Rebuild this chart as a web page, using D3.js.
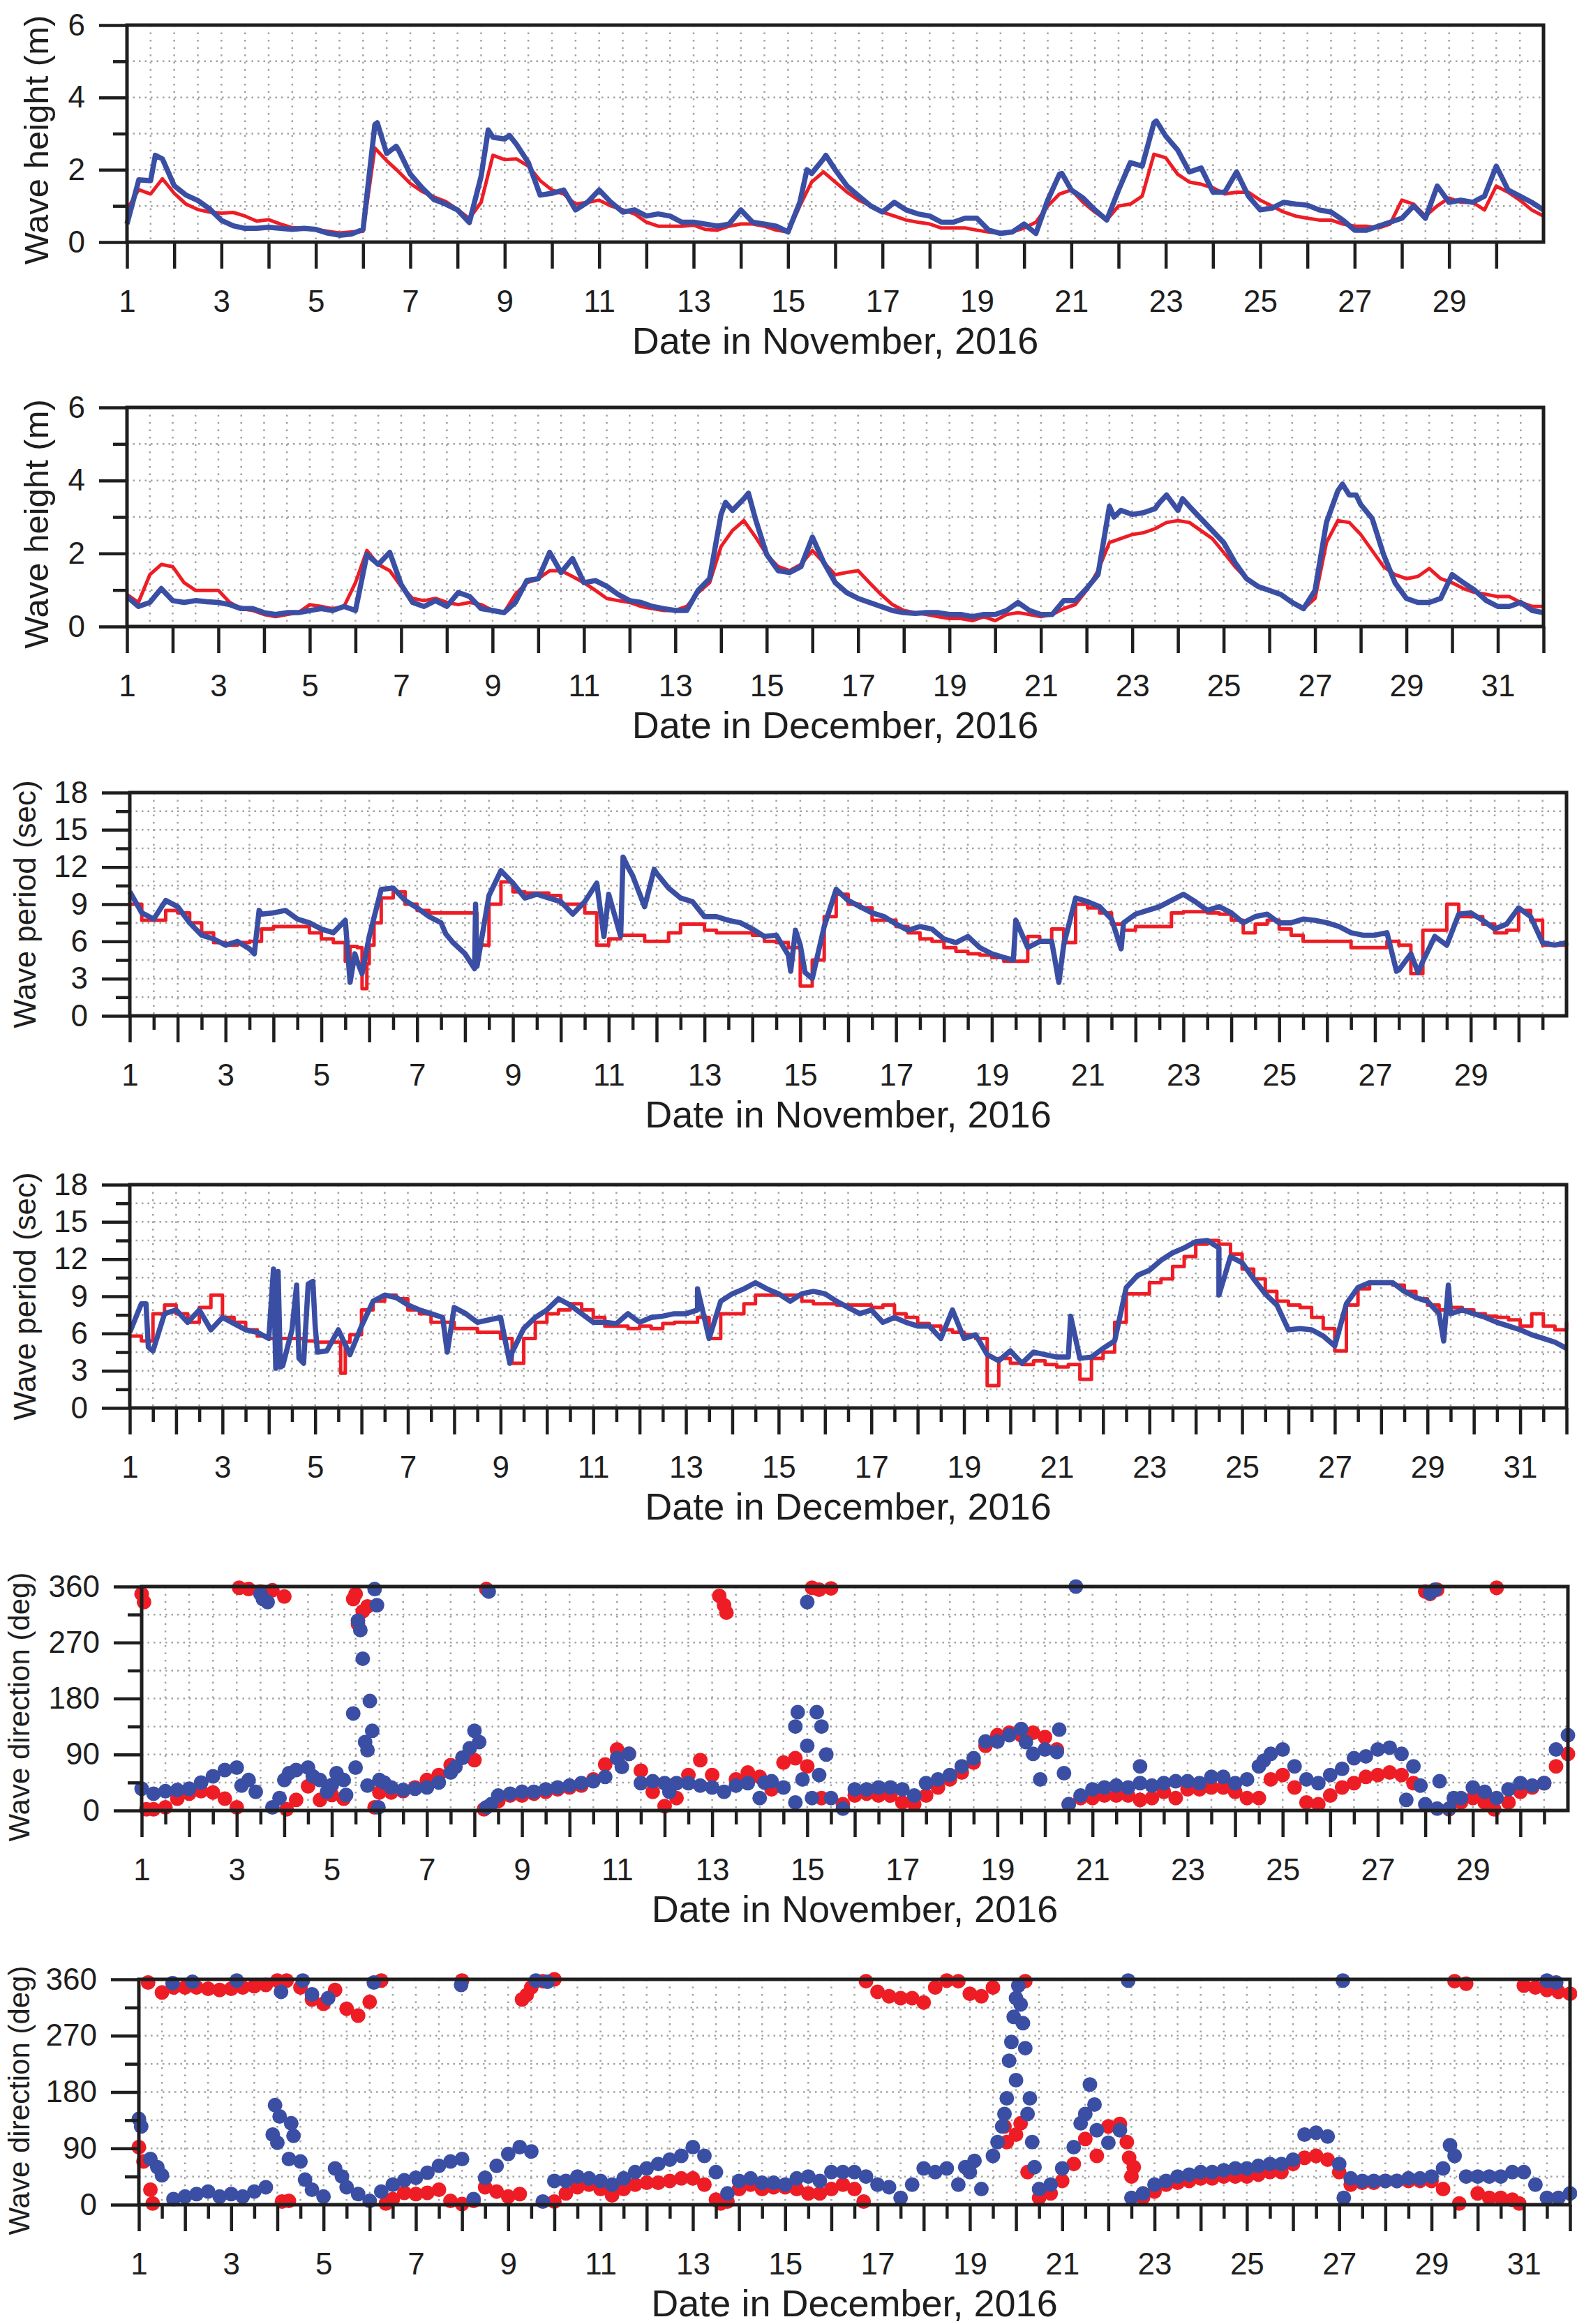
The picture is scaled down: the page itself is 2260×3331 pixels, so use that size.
<!DOCTYPE html>
<html>
<head>
<meta charset="utf-8">
<script src="https://cdn.jsdelivr.net/npm/d3@7"></script>
<style>
  body { margin: 0; background: #fff; }
  svg { display: block; font-family: "Liberation Sans", Arial, sans-serif; }
</style>
</head>
<body>
<svg id="chart" width="2260" height="3331"></svg>
<script>
// every series is sampled 6-hourly from day 1.00 (four values per day)
const step = 0.25;

// wave height (m), November
const novHeightRed = [
  0.9, 1.45, 1.33, 1.75,  1.35, 1.05, 0.9, 0.83,  0.8, 0.82, 0.72, 0.58,  0.62, 0.5, 0.4, 0.38,  0.35, 0.3, 0.25, 0.28,
  0.3, 2.6, 2.25, 1.95,  1.62, 1.4, 1.25, 1.12,  0.9, 0.65, 1.1, 2.4,  2.28, 2.3, 2.1, 1.7,  1.44, 1.33, 1.05, 1.1,
  1.16, 1.0, 0.89, 0.78,  0.55, 0.44, 0.44, 0.44,  0.47, 0.35, 0.33, 0.44,  0.5, 0.5, 0.44, 0.33,  0.28, 1.0, 1.66, 1.94,
  1.66, 1.38, 1.16, 1.0,  0.83, 0.72, 0.61, 0.55,  0.5, 0.39, 0.39, 0.39,  0.33, 0.28, 0.24, 0.28,  0.39, 0.55, 1.0, 1.33,
  1.44, 1.1, 0.83, 0.61,  1.0, 1.05, 1.27, 2.43,  2.33, 1.88, 1.66, 1.6,  1.5, 1.33, 1.38, 1.38,  1.16, 1.0, 0.83, 0.72,
  0.66, 0.61, 0.61, 0.5,  0.44, 0.44, 0.39, 0.5,  1.16, 1.05, 0.72, 1.0,  1.22, 1.1, 1.1, 0.89,  1.55, 1.38, 1.16, 0.89,
  0.72
];
const novHeightBlue = [
  0.5, 1.72, 1.7, 2.3,  1.56, 1.3, 1.15, 0.92,  0.6, 0.45, 0.38, 0.38,  0.41, 0.38, 0.35, 0.38,  0.35, 0.25, 0.19, 0.22,
  0.35, 3.25, 2.45, 2.55,  1.88, 1.5, 1.18, 1.05,  0.89, 0.54, 1.82, 2.9,  2.85, 2.7, 2.2, 1.3,  1.35, 1.44, 0.89, 1.1,
  1.44, 1.1, 0.83, 0.89,  0.72, 0.78, 0.72, 0.55,  0.55, 0.5, 0.44, 0.5,  0.89, 0.55, 0.5, 0.44,  0.28, 1.1, 1.9, 2.3,
  2.0, 1.55, 1.27, 1.0,  0.83, 1.1, 0.89, 0.78,  0.72, 0.55, 0.55, 0.66,  0.66, 0.33, 0.24, 0.28,  0.5, 0.24, 1.16, 1.88,
  1.44, 1.22, 0.89, 0.61,  1.44, 2.2, 2.1, 3.3,  2.93, 2.55, 1.94, 2.05,  1.38, 1.38, 1.94, 1.27,  0.89, 0.94, 1.1, 1.05,
  1.02, 0.89, 0.83, 0.61,  0.33, 0.33, 0.44, 0.55,  0.66, 1.0, 0.66, 1.55,  1.1, 1.16, 1.1, 1.27,  2.1, 1.44, 1.27, 1.1,
  0.89
];
const novHeightBlueExtra = [[1.6, 2.4], [6.3, 3.3], [6.7, 2.65], [8.65, 3.1], [9.1, 2.95], [15.4, 2.0], [15.8, 2.4], [20.8, 1.9], [22.8, 3.35]];

// wave height (m), December
const decHeightRed = [
  0.88, 0.66, 1.42, 1.7,  1.64, 1.2, 0.99, 0.99,  0.99, 0.66, 0.49, 0.44,  0.33, 0.27, 0.33, 0.38,  0.6, 0.55, 0.49, 0.55,
  1.2, 2.08, 1.7, 1.53,  1.1, 0.77, 0.71, 0.77,  0.66, 0.6, 0.66, 0.6,  0.44, 0.38, 0.88, 1.2,  1.31, 1.53, 1.53, 1.37,
  1.2, 0.99, 0.77, 0.71,  0.66, 0.55, 0.49, 0.44,  0.44, 0.55, 0.93, 1.2,  2.19, 2.63, 2.9, 2.46,  1.97, 1.64, 1.53, 1.7,
  2.08, 1.75, 1.42, 1.48,  1.53, 1.2, 0.88, 0.6,  0.44, 0.38, 0.33, 0.27,  0.22, 0.22, 0.16, 0.27,  0.16, 0.33, 0.38, 0.33,
  0.27, 0.33, 0.49, 0.6,  0.99, 1.53, 2.3, 2.41,  2.52, 2.57, 2.68, 2.85,  2.9, 2.85, 2.63, 2.41,  2.03, 1.64, 1.31, 1.1,
  0.99, 0.88, 0.66, 0.49,  0.77, 2.3, 2.9, 2.85,  2.52, 2.08, 1.64, 1.42,  1.31, 1.37, 1.59, 1.31,  1.2, 1.04, 0.93, 0.88,
  0.82, 0.82, 0.66, 0.55,  0.55
];
const decHeightBlue = [
  0.82, 0.55, 0.66, 1.04,  0.71, 0.66, 0.71, 0.68,  0.66, 0.6, 0.49, 0.49,  0.38, 0.33, 0.38, 0.38,  0.44, 0.49, 0.44, 0.55,
  0.44, 1.97, 1.7, 2.03,  1.15, 0.66, 0.55, 0.71,  0.55, 0.93, 0.82, 0.49,  0.44, 0.38, 0.66, 1.26,  1.31, 2.03, 1.48, 1.86,
  1.2, 1.26, 1.1, 0.88,  0.71, 0.66, 0.55, 0.49,  0.44, 0.44, 0.99, 1.31,  3.07, 3.18, 3.5, 2.96,  1.97, 1.53, 1.48, 1.64,
  2.45, 1.75, 1.2, 0.93,  0.77, 0.66, 0.55, 0.44,  0.38, 0.36, 0.38, 0.38,  0.33, 0.33, 0.27, 0.33,  0.33, 0.44, 0.66, 0.44,
  0.33, 0.33, 0.71, 0.71,  1.04, 1.42, 3.29, 3.18,  3.07, 3.12, 3.23, 3.6,  3.18, 3.29, 2.96, 2.63,  2.3, 1.75, 1.31, 1.1,
  0.99, 0.88, 0.66, 0.49,  0.99, 2.85, 3.72, 3.6,  3.34, 2.96, 1.97, 1.2,  0.77, 0.66, 0.66, 0.77,  1.42, 1.2, 0.99, 0.71,
  0.55, 0.55, 0.66, 0.44,  0.38
];
const decHeightBlueExtra = [[14.1, 3.4], [14.6, 3.65], [22.6, 3.0], [23.6, 3.4], [24.1, 3.5], [27.6, 3.9], [27.9, 3.6]];

// wave period (sec), November
const novPeriodRed = [
  9.0, 7.7, 7.7, 8.5,  8.3, 7.5, 6.7, 5.9,  5.7, 5.9, 6.0, 7.0,  7.2, 7.2, 7.2, 6.7,  6.2, 5.9, 4.4, 5.5,
  5.7, 9.5, 10.0, 9.0,  8.5, 8.3, 8.3, 8.3,  8.3, 5.7, 9.0, 10.8,  10.0, 9.9, 9.9, 9.7,  9.0, 9.0, 8.3, 5.7,
  6.2, 6.5, 6.5, 6.0,  6.0, 6.7, 7.4, 7.4,  6.9, 6.7, 6.7, 6.7,  6.5, 6.0, 5.9, 5.5,  2.4, 4.5, 8.0, 9.8,
  9.0, 8.7, 7.7, 7.7,  7.2, 6.7, 6.2, 6.0,  5.5, 5.2, 5.0, 4.9,  4.7, 4.4, 4.4, 6.4,  6.0, 7.0, 5.9, 9.0,
  8.7, 8.3, 7.4, 6.9,  7.2, 7.2, 7.2, 8.3,  8.4, 8.4, 8.3, 8.2,  7.7, 6.7, 7.4, 7.7,  7.0, 6.5, 6.0, 6.0,
  6.0, 6.0, 5.5, 5.5,  5.5, 6.0, 5.7, 3.4,  6.9, 6.9, 9.0, 8.0,  8.0, 7.4, 6.7, 6.9,  8.5, 7.7, 5.7, 5.7,
  5.9
];
const novPeriodRedExtra = [[5.6, 5.6], [5.85, 2.2], [5.95, 4.2], [6.1, 7.5]];
const novPeriodBlue = [
  10.0, 8.3, 7.8, 9.3,  8.8, 7.5, 6.5, 6.2,  5.7, 6.0, 5.4, 8.2,  8.3, 8.5, 7.8, 7.5,  7.0, 6.7, 7.7, 4.4,
  6.4, 10.2, 10.3, 9.3,  8.7, 8.0, 7.5, 5.9,  5.0, 4.0, 9.7, 11.7,  10.7, 9.5, 9.8, 9.5,  9.2, 8.2, 9.2, 10.7,
  9.8, 6.4, 11.3, 8.8,  11.5, 10.3, 9.5, 9.2,  8.0, 8.0, 7.7, 7.5,  7.0, 6.4, 6.5, 4.9,  5.7, 3.0, 7.2, 10.2,
  9.3, 8.8, 8.3, 8.0,  7.4, 6.9, 7.2, 7.0,  6.2, 5.9, 6.4, 5.5,  5.0, 4.7, 7.7, 5.5,  6.0, 6.0, 5.7, 9.5,
  9.2, 8.8, 7.8, 7.5,  8.2, 8.5, 8.8, 9.3,  9.8, 9.2, 8.5, 8.8,  8.3, 7.5, 8.0, 8.2,  7.5, 7.5, 7.8, 7.7,
  7.5, 7.2, 6.7, 6.5,  6.5, 6.7, 3.7, 5.0,  4.4, 6.4, 5.7, 8.2,  8.3, 7.7, 7.0, 7.4,  8.7, 8.0, 5.9, 5.7,
  5.9
];
const novPeriodBlueExtra = [
  [3.6, 5.0], [3.7, 8.5], [5.6, 2.7], [5.7, 5.0], [5.85, 3.4], [7.6, 6.6], [8.2, 3.8], [8.22, 9.0],
  [10.9, 6.4], [11.3, 12.8], [11.4, 12.0], [11.95, 11.8], [14.8, 3.6], [14.9, 6.9], [15.1, 3.5],
  [19.45, 4.5], [20.4, 2.7], [21.7, 5.4], [27.45, 3.6], [27.9, 3.5]
];

// wave period (sec), December
const decPeriodRed = [
  5.8, 5.4, 7.6, 8.3,  7.6, 6.9, 8.1, 9.1,  7.3, 6.9, 6.3, 5.8,  5.6, 5.6, 5.6, 5.4,  5.3, 5.3, 5.3, 5.9,
  7.9, 8.6, 9.1, 8.8,  7.9, 7.6, 6.9, 6.9,  6.4, 6.4, 6.1, 6.1,  5.6, 3.6, 5.6, 6.9,  7.6, 7.9, 8.4, 7.9,
  7.3, 6.6, 6.6, 6.4,  6.6, 6.4, 6.8, 6.9,  6.9, 7.3, 5.6, 7.6,  7.6, 8.4, 9.1, 9.1,  9.1, 9.1, 8.6, 8.4,
  8.4, 8.3, 8.3, 8.3,  8.1, 8.3, 7.6, 7.3,  6.8, 6.6, 6.3, 6.1,  5.9, 5.6, 1.8, 4.0,  3.6, 3.5, 3.8, 3.5,
  3.3, 3.5, 2.3, 4.0,  4.5, 6.9, 9.2, 9.2,  10.1, 10.4, 11.4, 12.2,  13.2, 13.5, 13.2, 12.4,  11.2, 10.4, 9.4, 8.6,
  8.3, 8.1, 7.3, 6.4,  4.6, 8.3, 9.6, 10.1,  10.1, 9.9, 9.4, 8.8,  8.3, 7.9, 8.1, 7.9,  7.6, 7.4, 7.3, 7.1,
  6.6, 7.6, 6.6, 6.3,  6.9
];
const decPeriodRedExtra = [[5.55, 2.8], [5.65, 5.3]];
const decPeriodBlue = [
  6.1, 8.4, 4.6, 7.6,  7.9, 6.9, 7.9, 6.3,  7.3, 6.8, 6.3, 6.1,  5.6, 3.3, 6.3, 3.6,  6.6, 4.6, 6.3, 4.3,
  6.6, 8.6, 9.1, 8.9,  8.3, 7.9, 7.6, 7.3,  8.1, 7.6, 6.9, 7.1,  7.3, 4.5, 6.4, 7.3,  7.9, 8.8, 8.3, 7.6,
  6.9, 6.9, 6.8, 7.6,  6.9, 7.3, 7.4, 7.6,  7.6, 7.9, 5.6, 8.6,  9.2, 9.6, 10.1, 9.6,  9.2, 8.6, 9.2, 9.4,
  9.2, 8.6, 8.1, 7.6,  7.9, 6.9, 7.3, 6.9,  6.6, 6.6, 5.6, 7.9,  5.6, 5.9, 4.3, 3.8,  4.6, 3.6, 4.5, 4.3,
  4.1, 4.1, 4.0, 4.1,  4.8, 5.4, 9.7, 10.7,  11.1, 11.9, 12.5, 12.9,  13.4, 13.5, 12.9, 12.2,  11.7, 10.4, 9.2, 8.3,
  6.3, 6.4, 6.3, 5.8,  5.0, 8.4, 9.7, 10.1,  10.1, 10.1, 9.4, 8.9,  8.6, 7.6, 7.6, 7.9,  7.6, 7.3, 6.9, 6.6,
  6.3, 5.9, 5.6, 5.3,  4.8
];
const decPeriodBlueExtra = [
  [1.35, 8.4], [1.4, 4.9], [4.1, 11.2], [4.15, 3.2], [4.2, 11.0], [4.3, 3.4], [4.6, 9.9], [4.65, 4.0],
  [4.85, 10.0], [4.95, 10.2], [5.05, 4.5], [7.85, 4.5], [9.2, 3.6], [13.25, 9.6], [18.75, 7.9],
  [21.3, 7.4], [24.5, 9.1], [29.35, 5.4], [29.45, 9.9]
];

// wave direction (deg), November
const novDirRed = [
  348, 2, 5, 19,  27, 31, 29, 19,  5, 356, 352, 354,  344, 17, 39, 17,  25, 19, 348, 328,
  29, 29, 31, 37,  49, 57, 73, 85,  81, 356, 15, 24,  24, 27, 30, 34,  37, 40, 50, 74,
  98, 91, 64, 30,  7, 20, 57, 81,  57, 330, 50, 61,  54, 34, 77, 84,  71, 355, 357, 10,
  24, 27, 24, 24,  13, 10, 24, 37,  50, 61, 77, 104,  121, 125, 121, 125,  118, 98, 10, 20,
  20, 24, 24, 24,  17, 20, 30, 20,  34, 34, 37, 37,  30, 20, 20, 50,  57, 37, 13, 10,
  24, 37, 44, 54,  57, 61, 57, 44,  352, 355, 2, 13,  20, 13, 358, 13,  30, 37, 44, 71,
  91
];
const novDirRedExtra = [
  [1.05, 335], [1.1, 2], [3.05, 358], [4.05, 2], [5.45, 340], [5.55, 300], [5.65, 320], [5.9, 5],
  [8.2, 2], [13.15, 345], [13.3, 318], [15.1, 358], [15.3, 20], [28.1, 348], [29.45, 2]
];
const novDirBlue = [
  35, 27, 31, 33,  35, 45, 55, 65,  69, 49, 348, 5,  49, 65, 69, 49,  41, 49, 69, 97,
  49, 37, 33, 35,  37, 45, 61, 85,  128, 5, 24, 27,  30, 30, 34, 37,  40, 44, 47, 54,
  84, 91, 44, 47,  44, 44, 44, 40,  37, 30, 40, 44,  20, 47, 37, 13,  104, 57, 20, 3,
  34, 34, 37, 37,  34, 24, 44, 50,  57, 71, 84, 111,  111, 121, 131, 91,  98, 94, 10, 24,
  34, 37, 40, 37,  44, 40, 44, 47,  47, 44, 54, 54,  44, 50, 71, 91,  98, 71, 50, 44,
  57, 67, 84, 87,  98, 101, 91, 71,  10, 3, 3, 20,  37, 30, 20, 34,  44, 40, 44, 98,
  121
];
const novDirBlueExtra = [
  [3.1, 40], [3.4, 30], [3.55, 340], [3.65, 335], [3.9, 20], [4.1, 60], [4.6, 55], [4.9, 30],
  [5.1, 60], [5.3, 25], [5.45, 156], [5.55, 305], [5.6, 290], [5.65, 244], [5.7, 110], [5.75, 40],
  [5.8, 176], [5.85, 128], [5.9, 356], [5.95, 330], [5.98, 5], [6.1, 45], [7.6, 70], [7.9, 100],
  [8.1, 110], [8.3, 352], [8.35, 10], [11.1, 70], [12.1, 30], [14.1, 45], [14.75, 135], [14.8, 158],
  [14.9, 50], [15.0, 335], [15.1, 20], [15.2, 158], [15.3, 135], [15.4, 90], [19.6, 110], [19.9, 50],
  [20.3, 130], [20.4, 60], [20.65, 360], [22.0, 71], [24.6, 80], [27.6, 17], [27.9, 40], [28.1, 350],
  [28.2, 355], [28.3, 47], [28.6, 20]
];

// wave direction (deg), December
const decDirRed = [
  92, 24, 339, 347,  347, 347, 345, 343,  345, 347, 349, 351,  358, 6, 347, 328,  321, 343, 313, 302,
  324, 358, 9, 19,  17, 19, 24, 6,  1, 6, 28, 21,  13, 17, 347, 357,  5, 18, 28, 32,
  25, 15, 25, 32,  35, 35, 38, 42,  42, 32, 8, 5,  25, 32, 25, 28,  28, 25, 18, 18,
  25, 32, 25, 357,  340, 333, 330, 330,  323, 347, 358, 357,  337, 333, 347, 125,  112, 52, 11, 18,
  38, 65, 105, 78,  125, 129, 45, 11,  21, 32, 35, 38,  42, 42, 45, 45,  45, 48, 52, 52,
  65, 75, 78, 72,  52, 32, 35, 35,  38, 38, 38, 38,  38, 25, 357, 353,  18, 11, 11, 8,
  350, 347, 343, 340,  337
];
const decDirRedExtra = [
  [1.1, 69], [1.2, 355], [1.3, 2], [4.1, 5], [4.2, 358], [6.35, 2], [8.0, 358], [9.3, 328],
  [9.4, 335], [10.0, 360], [13.6, 2], [16.7, 5], [19.8, 100], [20.1, 130], [20.2, 357],
  [22.4, 100], [22.45, 75], [22.55, 60], [29.6, 2], [30.9, 2]
];
const decDirBlue = [
  137, 73, 47, 9,  13, 17, 21, 13,  17, 13, 21, 28,  99, 73, 69, 24,  13, 58, 28, 17,
  6, 21, 32, 39,  43, 51, 62, 69,  73, 9, 43, 62,  81, 92, 85, 5,  38, 38, 45, 42,
  38, 32, 42, 52,  58, 65, 72, 78,  92, 78, 52, 18,  38, 42, 35, 35,  32, 42, 45, 38,
  52, 52, 52, 45,  32, 28, 11, 32,  58, 52, 58, 32,  52, 25, 78, 145,  199, 145, 25, 32,
  58, 92, 145, 119,  99, 119, 11, 18,  32, 38, 45, 48,  52, 52, 55, 58,  58, 62, 65, 65,
  72, 112, 115, 109,  65, 42, 38, 38,  38, 38, 42, 42,  45, 58, 78, 45,  45, 45, 45, 52,
  52, 32, 11, 11,  18
];
const decDirBlueExtra = [
  [1.05, 125], [1.4, 60], [1.73, 354], [2.16, 356], [3.12, 358], [3.9, 112], [3.95, 159], [4.05, 141],
  [4.08, 340], [4.3, 130], [4.35, 110], [4.55, 358], [4.6, 40], [4.75, 336], [5.1, 330], [5.4, 45],
  [6.09, 355], [7.98, 351], [9.6, 358], [9.85, 356], [18.9, 60], [19.1, 70], [19.6, 100], [19.7, 125],
  [19.8, 170], [19.85, 230], [19.9, 260], [19.95, 300], [20.0, 330], [20.05, 350], [20.1, 320],
  [20.15, 290], [20.2, 250], [20.3, 170], [20.35, 100], [20.4, 60], [21.4, 130], [21.6, 192],
  [21.7, 160], [22.43, 358], [27.08, 358], [27.1, 11], [29.4, 95], [31.5, 358], [31.7, 355]
];

const novTitle = 'Date in November, 2016';
const decTitle = 'Date in December, 2016';

const panels = [
  { left: 182, right: 2212, top: 36, bottom: 347, xMax: 31, yMax: 6, yMajor: 2, yMinor: 1, halfTicks: false,
    kind: 'line', red: novHeightRed, blue: novHeightBlue, blueExtra: novHeightBlueExtra,
    title: novTitle, label: 'Wave height (m)', labelX: 52, labelShift: 9, labelSize: 49 },
  { left: 182, right: 2212, top: 584, bottom: 898, xMax: 32, yMax: 6, yMajor: 2, yMinor: 1, halfTicks: false,
    kind: 'line', red: decHeightRed, blue: decHeightBlue, blueExtra: decHeightBlueExtra,
    title: decTitle, label: 'Wave height (m)', labelX: 52, labelShift: 10, labelSize: 49 },
  { left: 186, right: 2245, top: 1136, bottom: 1456, xMax: 31, yMax: 18, yMajor: 3, yMinor: 1.5, halfTicks: true,
    kind: 'line', redStep: true, red: novPeriodRed, redExtra: novPeriodRedExtra, blue: novPeriodBlue, blueExtra: novPeriodBlueExtra,
    title: novTitle, label: 'Wave period (sec)', labelX: 35, labelShift: 0, labelSize: 44 },
  { left: 186, right: 2245, top: 1698, bottom: 2018, xMax: 32, yMax: 18, yMajor: 3, yMinor: 1.5, halfTicks: true,
    kind: 'line', redStep: true, red: decPeriodRed, redExtra: decPeriodRedExtra, blue: decPeriodBlue, blueExtra: decPeriodBlueExtra,
    title: decTitle, label: 'Wave period (sec)', labelX: 35, labelShift: 0, labelSize: 44 },
  { left: 203, right: 2247, top: 2274, bottom: 2595, xMax: 31, yMax: 360, yMajor: 90, yMinor: 45, halfTicks: true,
    kind: 'dots', red: novDirRed, redExtra: novDirRedExtra, blue: novDirBlue, blueExtra: novDirBlueExtra,
    title: novTitle, label: 'Wave direction (deg)', labelX: 27, labelShift: 12, labelSize: 42 },
  { left: 199, right: 2250, top: 2837, bottom: 3160, xMax: 32, yMax: 360, yMajor: 90, yMinor: 45, halfTicks: true,
    kind: 'dots', red: decDirRed, redExtra: decDirRedExtra, blue: decDirBlue, blueExtra: decDirBlueExtra,
    title: decTitle, label: 'Wave direction (deg)', labelX: 27, labelShift: 12, labelSize: 42 }
];

const colours = { red: '#ee1d25', blue: '#3a4fa4', grid: '#a2a2a2', ink: '#1e1e1e' };

const svg = d3.select('#chart');

// regular 6-hourly samples plus the odd irregular ones, in time order
const toPoints = (values, extra) => {
  const pts = values.map((v, i) => ({ day: 1 + i * step, value: v }));
  (extra || []).forEach(([day, value]) => pts.push({ day, value }));
  return pts.sort((a, b) => a.day - b.day);
};

const styleAxis = (g, width) => {
  g.select('.domain').remove();
  g.selectAll('.tick line').attr('stroke', colours.ink).attr('stroke-width', width);
  g.selectAll('.tick text').attr('fill', colours.ink);
  g.attr('font-size', 44).attr('font-family', null);
};

panels.forEach((p) => {
  const x = d3.scaleLinear().domain([1, p.xMax]).range([p.left, p.right]);
  const y = d3.scaleLinear().domain([0, p.yMax]).range([p.bottom, p.top]);
  const g = svg.append('g');

  // dotted grid
  const gridDays = d3.range(1.5, p.xMax, 0.5);
  const gridLevels = d3.range(p.yMinor, p.yMax - 0.001, p.yMinor);
  const grid = g.append('g')
    .attr('stroke', colours.grid)
    .attr('stroke-width', 2.5);
  grid.selectAll('.v').data(gridDays).join('line')
    .attr('class', 'v')
    .attr('x1', (d) => x(d)).attr('x2', (d) => x(d))
    .attr('y1', p.top).attr('y2', p.bottom)
    .attr('stroke-dasharray', '2.5 8');
  grid.selectAll('.h').data(gridLevels).join('line')
    .attr('class', 'h')
    .attr('x1', p.left).attr('x2', p.right)
    .attr('y1', (d) => y(d)).attr('y2', (d) => y(d))
    .attr('stroke-dasharray', '2.5 6');

  // data
  const redPts = toPoints(p.red, p.redExtra);
  const bluePts = toPoints(p.blue, p.blueExtra);
  if (p.kind === 'line') {
    const redLine = d3.line()
      .x((d) => x(d.day)).y((d) => y(d.value))
      .curve(p.redStep ? d3.curveStepAfter : d3.curveLinear);
    const blueLine = d3.line().x((d) => x(d.day)).y((d) => y(d.value));
    g.append('path').datum(redPts)
      .attr('d', redLine)
      .attr('fill', 'none').attr('stroke', colours.red)
      .attr('stroke-width', 5).attr('stroke-linejoin', 'round');
    g.append('path').datum(bluePts)
      .attr('d', blueLine)
      .attr('fill', 'none').attr('stroke', colours.blue)
      .attr('stroke-width', 7.5).attr('stroke-linejoin', 'round');
  } else {
    // dense hourly dots in the source merge into bands; larger dots mimic that
    g.append('g').selectAll('circle').data(redPts).join('circle')
      .attr('cx', (d) => x(d.day)).attr('cy', (d) => y(d.value))
      .attr('r', 10.5).attr('fill', colours.red);
    g.append('g').selectAll('circle').data(bluePts).join('circle')
      .attr('cx', (d) => x(d.day)).attr('cy', (d) => y(d.value))
      .attr('r', 10.5).attr('fill', colours.blue);
  }

  // frame
  g.append('rect')
    .attr('x', p.left).attr('y', p.top)
    .attr('width', p.right - p.left).attr('height', p.bottom - p.top)
    .attr('fill', 'none').attr('stroke', colours.ink).attr('stroke-width', 5);

  // y axis: labelled major ticks, short minor ticks
  const yMajors = d3.range(0, p.yMax + 0.001, p.yMajor);
  const yMinors = d3.range(p.yMinor, p.yMax, p.yMajor);
  g.append('g')
    .attr('transform', `translate(${p.left},0)`)
    .call(d3.axisLeft(y).tickValues(yMajors).tickSize(40).tickPadding(20).tickFormat(d3.format('d')))
    .call((a) => styleAxis(a, 4.5));
  g.append('g')
    .attr('transform', `translate(${p.left},0)`)
    .call(d3.axisLeft(y).tickValues(yMinors).tickSize(20).tickFormat(''))
    .call((a) => styleAxis(a, 4.5));

  // x axis: a tick per day, odd days labelled, optional half-day ticks
  const lastTick = p.xMax === 32 ? 32 : p.xMax - 1;
  const dayTicks = d3.range(1, lastTick + 1, 1);
  g.append('g')
    .attr('transform', `translate(0,${p.bottom})`)
    .call(d3.axisBottom(x).tickValues(dayTicks).tickSize(38).tickPadding(31)
      .tickFormat((d) => (d % 2 === 1 && d < p.xMax ? d : '')))
    .call((a) => styleAxis(a, 4.5));
  if (p.halfTicks) {
    g.append('g')
      .attr('transform', `translate(0,${p.bottom})`)
      .call(d3.axisBottom(x).tickValues(d3.range(1.5, p.xMax, 1)).tickSize(20).tickFormat(''))
      .call((a) => styleAxis(a, 4.5));
  }

  // titles
  g.append('text')
    .attr('x', (p.left + p.right) / 2).attr('y', p.bottom + 160)
    .attr('text-anchor', 'middle').attr('font-size', 54).attr('fill', colours.ink)
    .text(p.title);
  g.append('text')
    .attr('transform', `translate(${p.labelX},${(p.top + p.bottom) / 2 + p.labelShift}) rotate(-90)`)
    .attr('text-anchor', 'middle').attr('dominant-baseline', 'central')
    .attr('font-size', p.labelSize).attr('fill', colours.ink)
    .text(p.label);
});
</script>
</body>
</html>
